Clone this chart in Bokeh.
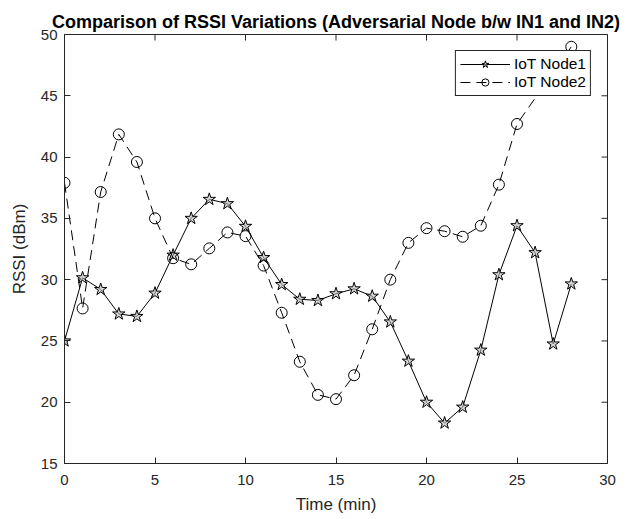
import math
from bokeh.plotting import figure
from bokeh.models import Range1d, FixedTicker
from bokeh.embed import file_html
from bokeh.resources import INLINE

# ---- data ----
time_node1 = list(range(0, 29))
rssi_node1 = [25.0, 30.15, 29.2, 27.2, 27.0, 28.9, 32.0, 35.0, 36.55, 36.2,
              34.35, 31.8, 29.6, 28.4, 28.3, 28.85, 29.25, 28.65, 26.55, 23.35,
              20.0, 18.3, 19.6, 24.25, 30.4, 34.4, 32.2, 24.75, 29.65]
time_node2 = list(range(0, 26)) + [28]
rssi_node2 = [37.9, 27.65, 37.15, 41.85, 39.6, 35.0, 31.75, 31.25, 32.55, 33.85,
              33.55, 31.15, 27.3, 23.3, 20.6, 20.25, 22.2, 25.95, 30.0, 33.0,
              34.2, 33.95, 33.5, 34.4, 37.75, 42.7, 49.0]
x_ticks = [0, 5, 10, 15, 20, 25, 30]
y_ticks = [15, 20, 25, 30, 35, 40, 45, 50]
x_limits = (0, 30)
y_limits = (15, 50)
label1 = "IoT Node1"
label2 = "IoT Node2"
title_text = "Comparison of RSSI Variations (Adversarial Node b/w IN1 and IN2)"
x_label = "Time (min)"
y_label = "RSSI (dBm)"

FONT = "Liberation Sans"
AX = "#262626"

p = figure(width=633, height=519, x_range=Range1d(*x_limits), y_range=Range1d(*y_limits),
           output_backend="svg", toolbar_location=None,
           min_border_left=64, min_border_right=26, min_border_top=34, min_border_bottom=56)

p.title.text = title_text
p.title.text_font = FONT
p.title.text_font_size = "18px"
p.title.text_font_style = "bold"
p.title.text_color = "black"
p.title.align = "center"
p.title.standoff = 5
p.title.offset = -6

p.xgrid.visible = False
p.ygrid.visible = False
p.outline_line_color = AX
p.outline_line_width = 1
p.outline_line_alpha = 1

def style_axis(ax, ticks):
    ax.ticker = FixedTicker(ticks=ticks)
    ax.minor_tick_line_color = None
    ax.major_tick_in = 6
    ax.major_tick_out = 0
    ax.axis_line_color = AX
    ax.major_tick_line_color = AX
    ax.major_label_text_font = FONT
    ax.major_label_text_color = AX
    ax.major_label_text_font_size = "15px"
    ax.axis_label_text_font = FONT
    ax.axis_label_text_font_size = "17px"
    ax.axis_label_text_font_style = "normal"
    ax.axis_label_text_color = AX

xa = p.xaxis[0]
style_axis(xa, x_ticks)
xa.major_label_standoff = 11
xa.axis_label = x_label
xa.axis_label_standoff = 7

ya = p.yaxis[0]
style_axis(ya, y_ticks)
ya.major_label_standoff = 7
ya.axis_label = y_label
ya.axis_label_standoff = 9

# inward mirrored ticks on the top and right edges of the box (half of each dash is clipped by the frame)
p.scatter(x_ticks, [y_limits[1]] * len(x_ticks), marker="dash", size=12, angle=math.pi / 2,
          line_color=AX, line_width=1)
p.scatter([x_limits[1]] * len(y_ticks), y_ticks, marker="dash", size=12,
          line_color=AX, line_width=1)

# series 1: solid line with pentagram markers
p.line(time_node1, rssi_node1, line_color="black", line_width=1, legend_label=label1)
p.scatter(time_node1, rssi_node1, marker="star", size=13, line_color="black",
          line_width=1, fill_color="#bbbbbb", fill_alpha=0.6, legend_label=label1)

# series 2: dashed line with circle markers
p.line(time_node2, rssi_node2, line_color="black", line_width=1, line_dash="10 6",
       legend_label=label2)
p.scatter(time_node2, rssi_node2, marker="circle", size=11, line_color="black",
          line_width=1, fill_color=None, legend_label=label2)

lg = p.legend[0]
lg.location = "top_right"
lg.margin = 16
lg.padding = 4
lg.spacing = 0
lg.label_height = 18
lg.glyph_height = 18
lg.glyph_width = 50
lg.label_standoff = 4
lg.border_line_color = AX
lg.border_line_width = 1
lg.border_line_alpha = 1
lg.background_fill_color = "white"
lg.background_fill_alpha = 1
lg.label_text_font = FONT
lg.label_text_font_size = "15.5px"
lg.label_text_color = "black"

open("out.html", "w").write(file_html(p, INLINE))
